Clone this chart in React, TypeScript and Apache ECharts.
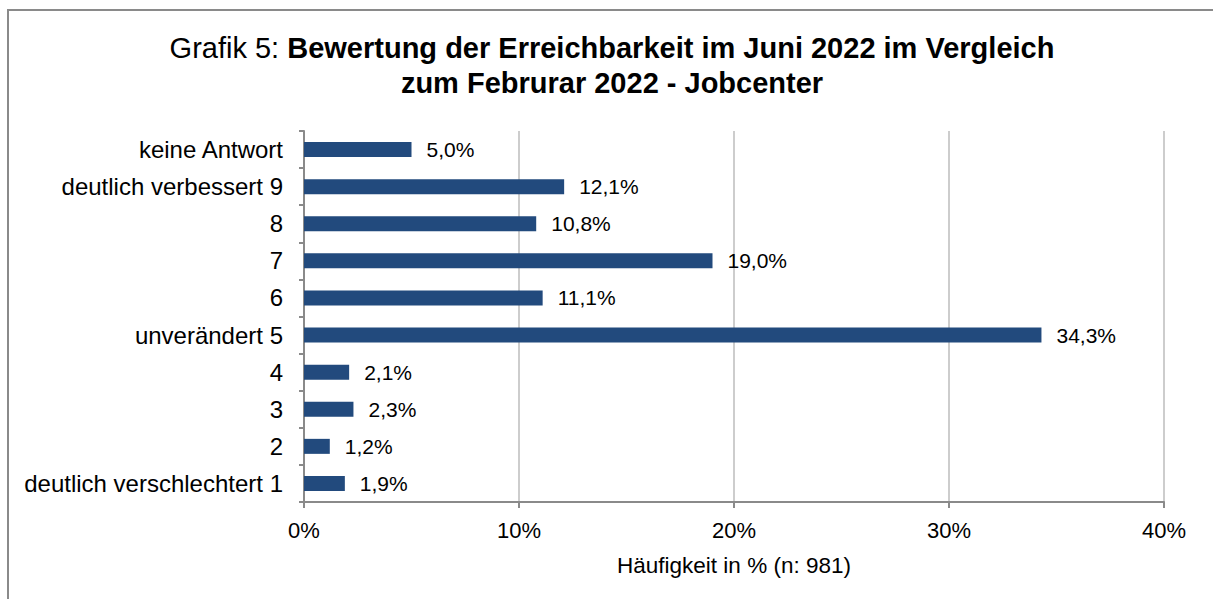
import React, { useEffect, useRef } from "react";
import * as echarts from "echarts";

const categories = [
  "keine Antwort",
  "deutlich verbessert 9",
  "8",
  "7",
  "6",
  "unverändert 5",
  "4",
  "3",
  "2",
  "deutlich verschlechtert 1",
];
const values = [5.0, 12.1, 10.8, 19.0, 11.1, 34.3, 2.1, 2.3, 1.2, 1.9];
const xTicks = { min: 0, max: 40, interval: 10 };
const titlePrefix = "Grafik 5: ";
const titleLine1 = "Bewertung der Erreichbarkeit im Juni 2022 im Vergleich";
const titleLine2 = "zum Februrar 2022 - Jobcenter";
const axisName = "Häufigkeit in % (n: 981)";

const FONT = "'Liberation Sans', Arial, Helvetica, sans-serif";

export default function App() {
  const ref = useRef<HTMLDivElement>(null);
  useEffect(() => {
    if (!ref.current) return;
    const chart = echarts.init(ref.current, undefined, { renderer: "svg" });
    chart.setOption({
      animation: false,
      backgroundColor: "#ffffff",
      textStyle: { fontFamily: FONT },
      graphic: [
        {
          type: "rect",
          shape: { x: 8, y: 10, width: 1220, height: 610 },
          style: { fill: "none", stroke: "#8a8a8a", lineWidth: 2 },
          silent: true,
        },
        {
          type: "text",
          x: 612,
          y: 30,
          style: {
            text:
              "{n|" + titlePrefix + "}{b|" + titleLine1 + "}\n{b|" + titleLine2 + "}",
            align: "center",
            verticalAlign: "top",
            fill: "#000",
            rich: {
              n: { fontFamily: FONT, fontSize: 29, fontWeight: "normal", lineHeight: 35, fill: "#000" },
              b: { fontFamily: FONT, fontSize: 29, fontWeight: "bold", lineHeight: 35, fill: "#000" },
            },
          },
        },
      ],
      grid: { left: 304, top: 131, right: 49, bottom: 97, containLabel: false },
      xAxis: {
        type: "value",
        min: xTicks.min,
        max: xTicks.max,
        interval: xTicks.interval,
        name: axisName,
        nameLocation: "middle",
        nameGap: 52,
        nameTextStyle: { fontFamily: FONT, fontSize: 22.5, color: "#000" },
        axisLine: { show: true, lineStyle: { color: "#8a8a8a", width: 2 } },
        axisTick: { show: true, length: 6, lineStyle: { color: "#8a8a8a", width: 2 } },
        axisLabel: {
          formatter: "{value}%",
          fontFamily: FONT,
          fontSize: 22,
          color: "#000",
          margin: 17,
        },
        splitLine: { show: true, lineStyle: { color: "#bcbcbc", width: 1.5 } },
      },
      yAxis: {
        type: "category",
        data: categories,
        inverse: true,
        axisLine: { show: true, lineStyle: { color: "#8a8a8a", width: 2 } },
        axisTick: { show: true, length: 5, lineStyle: { color: "#8a8a8a", width: 2 } },
        axisLabel: { fontFamily: FONT, fontSize: 24, color: "#000", margin: 21 },
        splitLine: { show: false },
      },
      series: [
        {
          type: "bar",
          data: values,
          barWidth: 15,
          itemStyle: { color: "#224a7d" },
          label: {
            show: true,
            position: "right",
            distance: 15,
            fontFamily: FONT,
            fontSize: 21,
            color: "#000",
            formatter: (p: any) => Number(p.value).toFixed(1).replace(".", ",") + "%",
          },
        },
      ],
    });
    return () => chart.dispose();
  }, []);
  return (
    <div
      ref={ref}
      style={{ position: "absolute", left: 0, top: 0, width: 1213, height: 599 }}
    />
  );
}
